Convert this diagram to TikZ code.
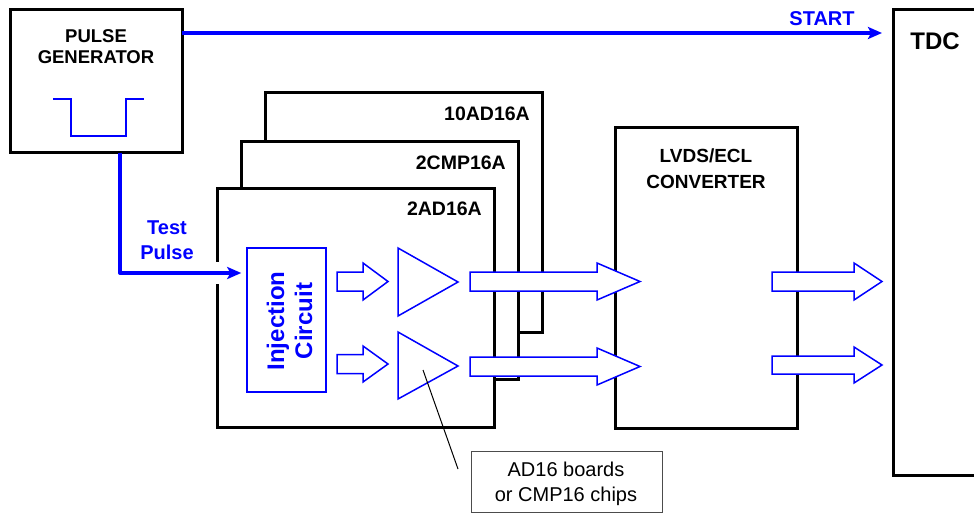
\documentclass[tikz,border=0pt]{standalone}
\usepackage{fontspec}
\setmainfont{Liberation Sans}
\usetikzlibrary{arrows.meta}
\definecolor{pblue}{RGB}{0,0,255}
\newcommand\bArrow[6]{%
  \draw[blockarrow] (#1,#4-#5) -- (#2,#4-#5) -- (#2,#4-#6) -- (#3,#4) -- (#2,#4+#6) -- (#2,#4+#5) -- (#1,#4+#5) -- cycle;}
\begin{document}
\begin{tikzpicture}[x=1pt,y=-1pt,
  bbox/.style={draw=black, line width=3pt, fill=white, inner sep=0pt, outer sep=0pt},
  btxt/.style 2 args={font=\bfseries\fontsize{#1}{#2}\selectfont, inner sep=0pt, align=center},
  blockarrow/.style={draw=pblue, fill=white, line width=1.5pt, line join=miter},
  sigline/.style={draw=pblue, line width=4pt, -{Stealth[length=14pt,width=12pt,inset=3pt]}},
  thinblue/.style={draw=pblue, line width=1.5pt}]
\useasboundingbox (0,0) rectangle (974,513);

% pulse generator
\node[bbox, minimum width=172pt, minimum height=143pt] (pg) at (96,81.5) {};
\node[btxt={18.5}{21.5}] (pgt) at (96,46.5) {PULSE\\GENERATOR};
\draw[pblue, line width=1.3pt] (53,99) -- (71,99) -- (71,136) -- (126,136) -- (126,99) -- (144,99);

% TDC
\coordinate (tdcnw) at (893,10);
\coordinate (tdcsw) at (893,475);
\draw[line width=3pt] (974,10) -- (tdcnw) -- (tdcsw) -- (974,475);
\node[btxt={24}{28}] (tdct) at (935,41) {TDC};

% boards
\node[bbox, minimum width=277pt, minimum height=239pt] (ad10) at (403.5,212.5) {};
\node[btxt={19.5}{23}, anchor=base east] (ad10t) at ([xshift=-12pt,yshift=-28pt]ad10.north east) {10AD16A};
\node[bbox, minimum width=277pt, minimum height=237pt] (cmp) at (379.5,260.5) {};
\node[btxt={19.5}{23}, anchor=base east] (cmpt) at ([xshift=-12pt,yshift=-28pt]cmp.north east) {2CMP16A};
\node[bbox, minimum width=277pt, minimum height=238pt] (ad2) at (355.5,308) {};
\node[btxt={19.5}{23}, anchor=base east] (ad2t) at ([xshift=-12pt,yshift=-26pt]ad2.north east) {2AD16A};

% LVDS/ECL converter
\node[bbox, minimum width=182pt, minimum height=300pt] (lvds) at (706,278) {};
\node[btxt={19}{25.5}] (lvdst) at (706,168.5) {LVDS/ECL\\CONVERTER};

% injection circuit
\node[thinblue, minimum width=79pt, minimum height=144pt, inner sep=0pt] (inj) at (286.5,320) {};
\node[btxt={24}{28}, text=pblue, rotate=90] (injt) at (289.5,321) {Injection\\Circuit};

% start signal
\draw[sigline, shorten >=11pt] (pg.east |- 0,33) -- (tdcnw |- 0,33);
\node[btxt={20}{25}, text=pblue] (startt) at (822,18.7) {START};

% test pulse
\fill[white] (214,262) rectangle (220,284);
\draw[sigline, shorten >=5pt, line join=round] (120,153) |- (inj.west |- 0,273);
\node[btxt={20}{25}, text=pblue] (tpt) at (167,240.5) {Test\\Pulse};

% small block arrows
\bArrow{337}{363}{388}{281.5}{9.5}{18.5}
\bArrow{337}{363}{388}{364}{9.5}{18}
% amplifiers
\draw[thinblue, fill=white, line join=miter] (398,248) -- (458,282) -- (398,316) -- cycle;
\draw[thinblue, fill=white, line join=miter] (398,332) -- (458,366) -- (398,399) -- cycle;
\coordinate (amp2) at (423,370);
% long block arrows
\bArrow{470}{597}{640}{281.5}{9.5}{18.5}
\bArrow{470}{597}{640}{366.5}{9.5}{18.5}
% output block arrows
\bArrow{772}{854}{882}{281.5}{9.5}{18.5}
\bArrow{772}{854}{882}{365}{9}{18}

% callout
\node[draw=black!70, line width=1pt, minimum width=191pt, minimum height=61pt, inner sep=0pt] (call) at (566.5,481.5) {};
\node[font=\fontsize{20}{25}\selectfont, align=center, inner sep=0pt] (callt) at (566,484) {AD16 boards\\or CMP16 chips};
\coordinate (callend) at (458,469);
\draw[line width=1pt] (amp2) -- (callend);
\end{tikzpicture}
\end{document}
